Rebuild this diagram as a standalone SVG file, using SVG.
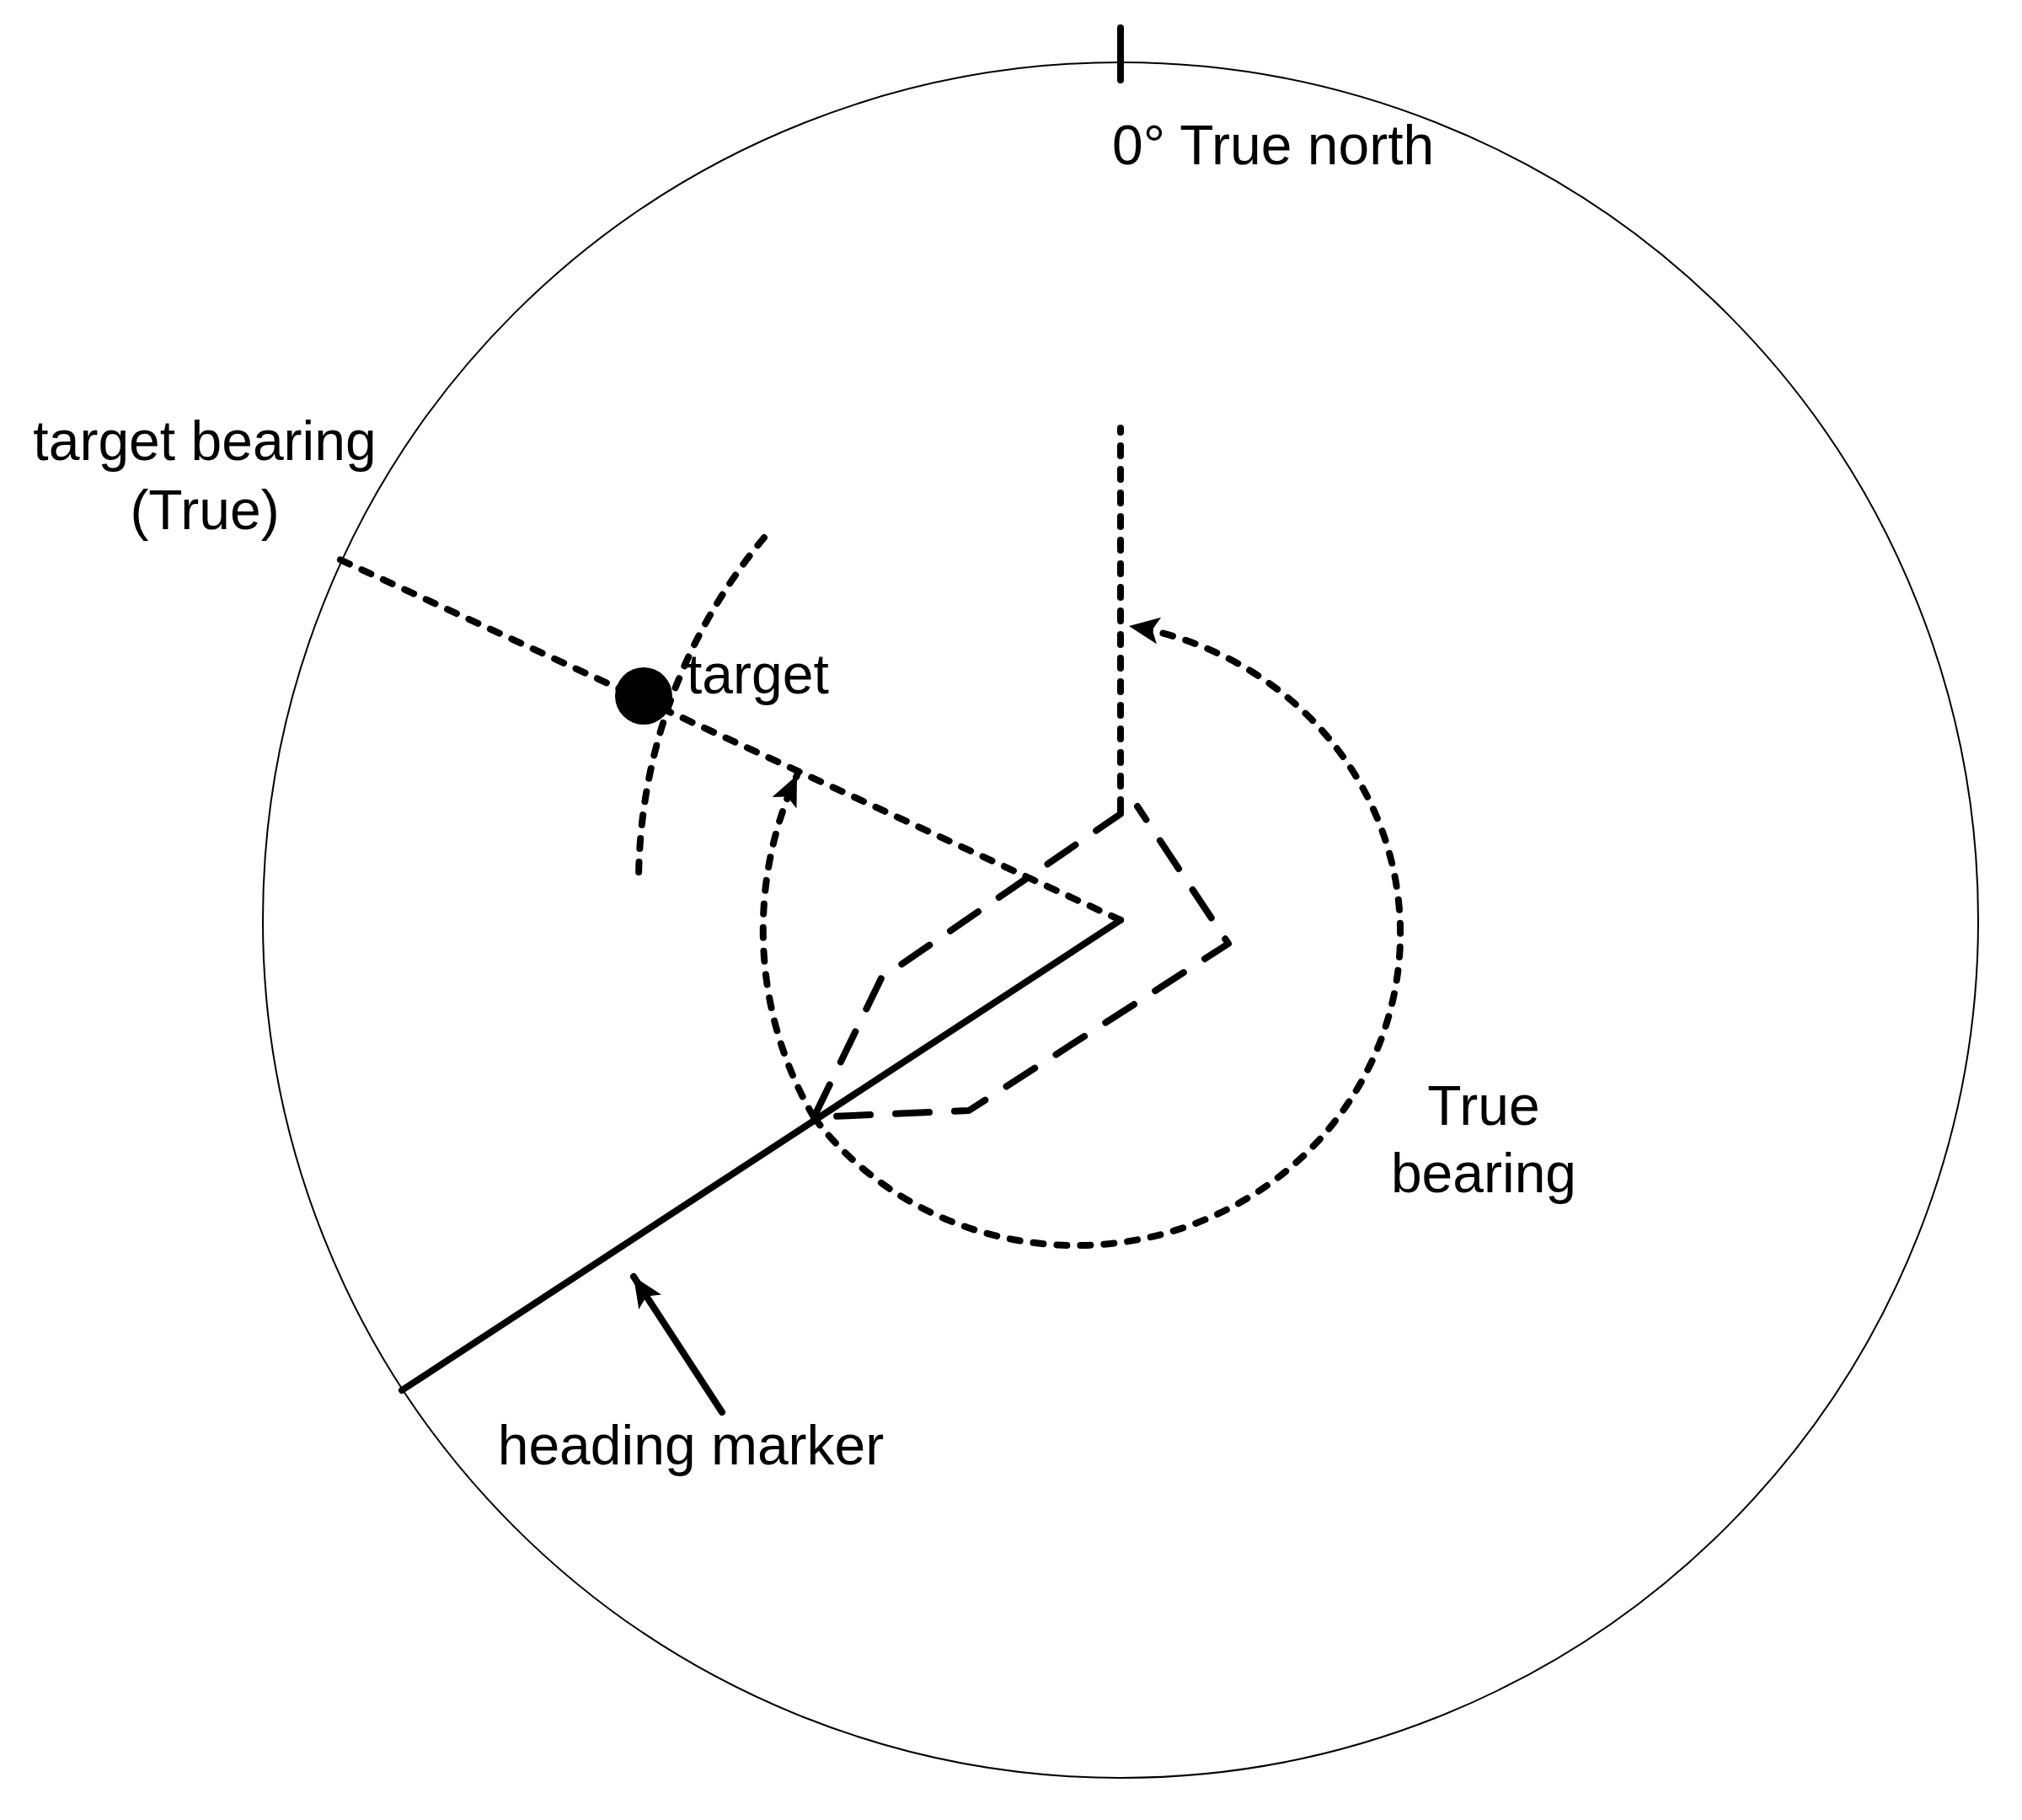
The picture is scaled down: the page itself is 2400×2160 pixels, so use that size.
<svg xmlns="http://www.w3.org/2000/svg" width="2400" height="2160" viewBox="0 0 2400 2160">
<style>
text{font-family:"Liberation Sans",Arial,sans-serif;font-size:66px;fill:#000}
.dot{fill:none;stroke:#000;stroke-width:8;stroke-dasharray:12 16;stroke-linecap:round}
.dash{fill:none;stroke:#000;stroke-width:8;stroke-dasharray:40 30;stroke-linecap:round;stroke-linejoin:round}
.solid{fill:none;stroke:#000;stroke-width:8;stroke-linecap:round}
</style>
<defs>
<marker id="ah" markerUnits="userSpaceOnUse" markerWidth="50" markerHeight="50" refX="36" refY="16" orient="auto">
<path d="M0,0 L36,16 L0,32 L8,16 Z" fill="#000"/>
</marker>
</defs>
<rect width="2400" height="2160" fill="#fff"/>
<g id="dial">
<circle cx="1330" cy="1092" r="1018" fill="none" stroke="#000" stroke-width="2"/>
<line x1="1330" y1="33" x2="1330" y2="95" class="solid" stroke-width="5"/>
</g>
<g id="connectors">
<line class="dot" x1="1330" y1="961" x2="1330" y2="508"/>
<line class="dot" x1="1330" y1="1092" x2="403" y2="664"/>
<path class="dot" d="M907,638 A640,640 0 0 0 758,1046"/>
<path class="dot" d="M966,1326 A385,370 0 1 0 1340,743" marker-end="url(#ah)"/>
<path class="dot" d="M966,1326 A440,440 0 0 1 946,920" marker-end="url(#ah)"/>
<path class="dash" d="M1330,961 L1330,966 L1046,1161 L966,1326 L1150,1318 L1458,1120 L1350,957"/>
<line class="solid" x1="1330" y1="1092" x2="477" y2="1650"/>
<line class="solid" stroke-width="9" x1="857" y1="1676" x2="752" y2="1515" marker-end="url(#ah)"/>
</g>
<g id="target">
<circle cx="764" cy="826" r="34" fill="#000"/>
<text x="815" y="823">target</text>
</g>
<g id="labels">
<text x="1320" y="195">0°  True north</text>
<text x="243" y="546" text-anchor="middle">target bearing</text>
<text x="243" y="628" text-anchor="middle">(True)</text>
<text x="1761" y="1335" text-anchor="middle">True</text>
<text x="1761" y="1415" text-anchor="middle">bearing</text>
<text x="820" y="1738" text-anchor="middle">heading marker</text>
</g>
</svg>
